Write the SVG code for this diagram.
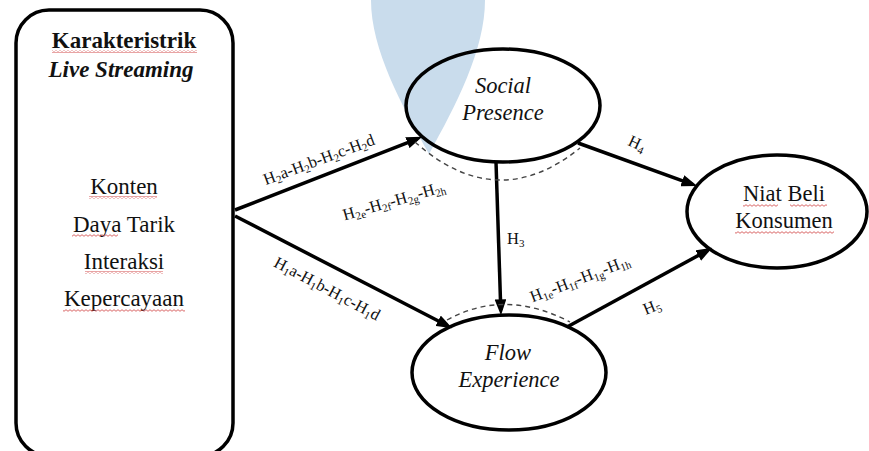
<svg xmlns="http://www.w3.org/2000/svg" width="869" height="451" viewBox="0 0 869 451" font-family="'Liberation Serif', 'Times New Roman', Times, 'DejaVu Serif', serif">
<style>
text{font-family:"Liberation Serif","Times New Roman",Times,"DejaVu Serif",serif;fill:#111}
.box{font-size:23px}
.ell{font-size:22.5px;font-style:italic}
.lab{font-size:16.5px}
.sub{font-size:11px}
.node{fill:none;stroke:#000;stroke-width:3.5}
.arr{stroke:#000;stroke-width:3.5;fill:none;marker-end:url(#ah)}
.dash{fill:none;stroke:#444;stroke-width:1.4;stroke-dasharray:5 4}
.wavy{fill:url(#wv)}
</style>
<defs>
<marker id="ah" markerUnits="userSpaceOnUse" markerWidth="16" markerHeight="12" viewBox="0 0 15 11" refX="10" refY="5.5" orient="auto">
<path d="M0,0 L15,5.5 L0,11 z" fill="#000"/>
</marker>
<pattern id="wv" patternUnits="userSpaceOnUse" width="4" height="3">
<path d="M0,2.3 L2,0.7 L4,2.3" fill="none" stroke="#d04040" stroke-width="0.8"/>
</pattern>
</defs>
<path id="watermark" d="M371,0 C371,50 402,105 429,154 C456,105 485,50 485,0 Z" fill="#c9dcec"/>
<g id="connectors">
<line class="arr" x1="235" y1="210" x2="417.3" y2="138.8"/>
<line class="arr" x1="235" y1="216" x2="447.6" y2="325.7"/>
<line class="arr" x1="496" y1="162" x2="500.8" y2="310"/>
<line class="arr" x1="578" y1="143" x2="692.3" y2="184.3"/>
<line class="arr" x1="567" y1="327" x2="707.6" y2="250.4"/>
<path class="dash" d="M415,142 Q497,215 580,148"/>
<path class="dash" d="M447,320 Q505,288 570,322"/>
<text class="lab" transform="translate(319,160) rotate(-20.5)" text-anchor="middle" y="5">H<tspan class="sub" dy="3">2</tspan><tspan dy="-3">a-H</tspan><tspan class="sub" dy="3">2</tspan><tspan dy="-3">b-H</tspan><tspan class="sub" dy="3">2</tspan><tspan dy="-3">c-H</tspan><tspan class="sub" dy="3">2</tspan><tspan dy="-3">d</tspan></text>
<text class="lab" transform="translate(394,201) rotate(-16)" text-anchor="middle" y="5">H<tspan class="sub" dy="3">2e</tspan><tspan dy="-3">-H</tspan><tspan class="sub" dy="3">2f</tspan><tspan dy="-3">-H</tspan><tspan class="sub" dy="3">2g</tspan><tspan dy="-3">-H</tspan><tspan class="sub" dy="3">2h</tspan></text>
<text class="lab" transform="translate(327,289) rotate(28)" text-anchor="middle" y="5">H<tspan class="sub" dy="3">1</tspan><tspan dy="-3">a-H</tspan><tspan class="sub" dy="3">1</tspan><tspan dy="-3">b-H</tspan><tspan class="sub" dy="3">1</tspan><tspan dy="-3">c-H</tspan><tspan class="sub" dy="3">1</tspan><tspan dy="-3">d</tspan></text>
<text class="lab" transform="translate(580,279) rotate(-21)" text-anchor="middle" y="5">H<tspan class="sub" dy="3">1e</tspan><tspan dy="-3">-H</tspan><tspan class="sub" dy="3">1f</tspan><tspan dy="-3">-H</tspan><tspan class="sub" dy="3">1g</tspan><tspan dy="-3">-H</tspan><tspan class="sub" dy="3">1h</tspan></text>
<text class="lab" x="507" y="244">H<tspan class="sub" dy="3">3</tspan></text>
<text class="lab" transform="translate(637,144) rotate(25)" text-anchor="middle" y="5">H<tspan class="sub" dy="3">4</tspan></text>
<text class="lab" transform="translate(652,307) rotate(-22)" text-anchor="middle" y="5">H<tspan class="sub" dy="3">5</tspan></text>
</g>
<g id="karakteristik">
<rect class="node" x="16" y="10" width="217" height="446" rx="33" stroke-width="4"/>
<text class="box" x="124" y="48" text-anchor="middle" font-weight="bold">Karakteristrik</text>
<text class="box" x="121" y="77" text-anchor="middle" font-weight="bold" font-style="italic">Live Streaming</text>
<text class="box" x="124" y="194" text-anchor="middle">Konten</text>
<text class="box" x="124" y="232" text-anchor="middle">Daya Tarik</text>
<text class="box" x="124" y="269" text-anchor="middle">Interaksi</text>
<text class="box" x="124" y="306" text-anchor="middle">Kepercayaan</text>
<rect class="wavy" x="52" y="50" width="145" height="3"/>
<rect class="wavy" x="89" y="196" width="68" height="3"/>
<rect class="wavy" x="72" y="234" width="46" height="3"/>
<rect class="wavy" x="85" y="271" width="78" height="3"/>
<rect class="wavy" x="63" y="309" width="122" height="3"/>
</g>
<g id="social-presence">
<ellipse class="node" cx="503" cy="105.5" rx="97" ry="56.5"/>
<text class="ell" x="503" y="93" text-anchor="middle">Social</text>
<text class="ell" x="503" y="120" text-anchor="middle">Presence</text>
</g>
<g id="flow-experience">
<ellipse class="node" cx="509" cy="372.5" rx="97" ry="57.5"/>
<text class="ell" x="508" y="360" text-anchor="middle">Flow</text>
<text class="ell" x="509" y="387" text-anchor="middle">Experience</text>
</g>
<g id="niat-beli">
<ellipse class="node" cx="777" cy="211.5" rx="90" ry="56.5"/>
<text font-size="22.5" x="784" y="201" text-anchor="middle">Niat Beli</text>
<text font-size="22.5" x="784" y="228" text-anchor="middle">Konsumen</text>
<rect class="wavy" x="743" y="204" width="35" height="3"/>
<rect class="wavy" x="790" y="204" width="37" height="3"/>
<rect class="wavy" x="735" y="231" width="99" height="3"/>
</g>
</svg>
